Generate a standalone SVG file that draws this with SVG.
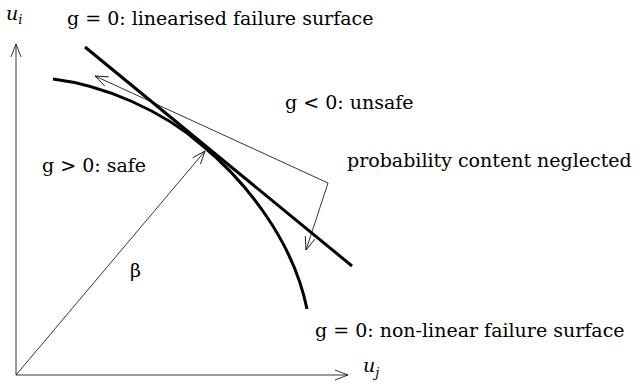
<svg xmlns="http://www.w3.org/2000/svg" width="642" height="389" viewBox="0 0 642 389">
<defs>
<marker id="open" markerUnits="userSpaceOnUse" markerWidth="16" markerHeight="12" refX="13" refY="5" orient="auto" overflow="visible">
<path d="M0,0 L13,5 L0,10" fill="none" stroke="#000" stroke-width="0.8"/>
</marker>
</defs>
<style>
.t{font-family:"DejaVu Serif","Liberation Serif",serif;font-size:19px;fill:#000}
.i{font-family:"DejaVu Serif","Liberation Serif",serif;font-style:italic;font-size:19px;fill:#000}
.thin{fill:none;stroke:#000;stroke-width:0.8}
.thick{fill:none;stroke:#000;stroke-width:3}
</style>
<rect width="642" height="389" fill="#fff"/>
<g id="axes">
<line class="thin" x1="16" y1="375" x2="16" y2="44" marker-end="url(#open)"/>
<line class="thin" x1="16" y1="375" x2="348" y2="375" marker-end="url(#open)"/>
<text class="i" x="6" y="20">u<tspan font-size="13" dy="4">i</tspan></text>
<text class="i" x="363" y="372">u<tspan font-size="13" dy="5">j</tspan></text>
</g>
<g id="linear-surface">
<line class="thick" x1="85" y1="47" x2="352" y2="266"/>
<text class="t" x="67" y="25">g = 0: linearised failure surface</text>
</g>
<g id="nonlinear-surface">
<path class="thick" d="M53,79 C103,85 162,110 203,146 C245,181 293,240 307,309"/>
<text class="t" x="315" y="337">g = 0: non-linear failure surface</text>
</g>
<g id="regions">
<text class="t" x="42" y="172">g &gt; 0: safe</text>
<text class="t" x="285" y="109">g &lt; 0: unsafe</text>
<text class="t" x="347" y="167">probability content neglected</text>
<text class="t" x="130" y="277">β</text>
</g>
<g id="connectors">
<line class="thin" x1="16" y1="375" x2="205" y2="151" marker-end="url(#open)"/>
<polyline class="thin" points="328,183 95,76" marker-end="url(#open)"/>
<polyline class="thin" points="328,183 306,250" marker-end="url(#open)"/>
</g>
</svg>
